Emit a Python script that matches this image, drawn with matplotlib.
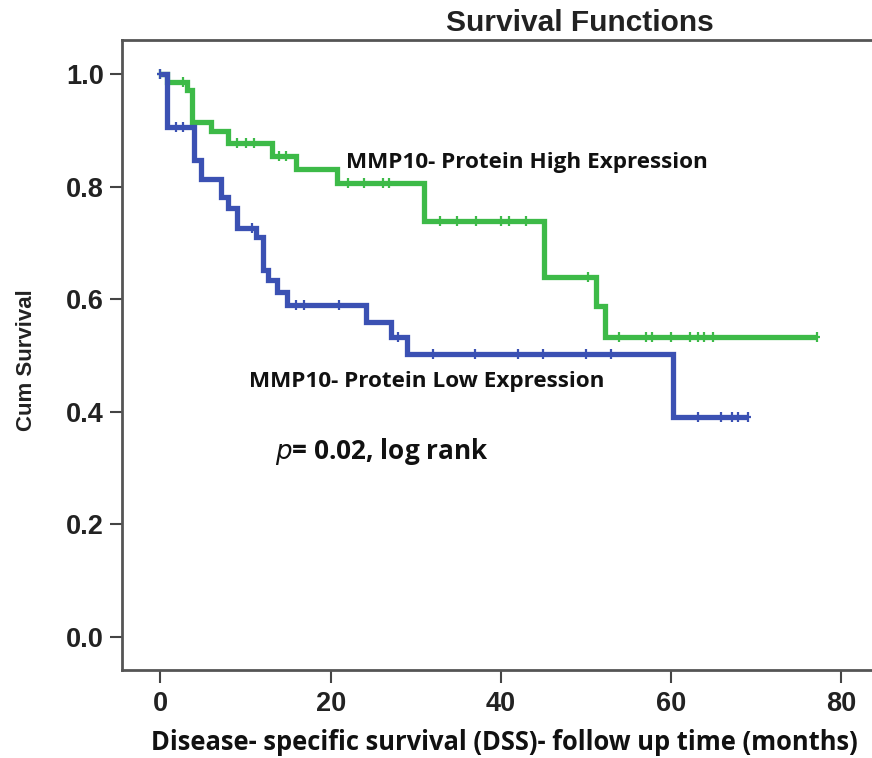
import numpy as np
import matplotlib
matplotlib.use("Agg")
import matplotlib.pyplot as plt

# ---- data ----
high_event_times = [0, 0.8, 3.1, 3.7, 5.9, 8.0, 13.1, 15.9, 20.8, 31.0, 45.1, 51.2, 52.2]
high_survival    = [1.0, 0.986, 0.972, 0.915, 0.898, 0.877, 0.854, 0.832, 0.806, 0.738, 0.640, 0.587, 0.533]
high_censored    = [0, 2.7, 9.0, 10.0, 11.0, 13.9, 14.7, 22.0, 23.9, 26.1, 26.9,
                    32.9, 34.9, 37.1, 40.0, 41.0, 42.9, 50.2,
                    53.9, 57.1, 57.8, 60.0, 62.2, 63.1, 63.9, 64.9, 77.1]
high_end = 77.1

low_event_times = [0, 0.8, 3.9, 4.8, 7.1, 8.0, 9.0, 11.2, 12.0, 12.7, 13.7, 14.9, 24.1, 27.1, 29.0, 60.2]
low_survival    = [1.0, 0.906, 0.847, 0.814, 0.781, 0.761, 0.726, 0.711, 0.652, 0.634, 0.613, 0.590,
                   0.560, 0.533, 0.503, 0.391]
low_censored    = [0, 1.8, 2.7, 10.8, 15.9, 16.9, 21.0, 27.9, 32.0, 37.0, 42.0, 44.9, 50.0, 52.9,
                   63.1, 65.9, 67.1, 67.8, 69.0]
low_end = 69.0

xticks = [0, 20, 40, 60, 80]
yticks = [0.0, 0.2, 0.4, 0.6, 0.8, 1.0]

green = "#3dba48"
blue = "#3b51b3"

fig = plt.figure(figsize=(8.72, 7.58), dpi=100)
ax = fig.add_axes([0.14, 0.116, 0.862, 0.831])


def step_curve(ax, times, surv, end, censored, color):
    t = list(times) + [end]
    s = list(surv) + [surv[-1]]
    ax.step(t, s, where="post", color=color, lw=3.8, solid_capstyle="butt",
            solid_joinstyle="miter", zorder=3)
    ta = np.asarray(times)
    cs = [surv[np.searchsorted(ta, c, side="right") - 1] for c in censored]
    ax.plot(censored, cs, linestyle="none", marker="|", markersize=7, mew=1.6,
            color=color, zorder=4)
    ax.plot(censored, cs, linestyle="none", marker="_", markersize=5, mew=1.6,
            color=color, zorder=4)


step_curve(ax, high_event_times, high_survival, high_end, high_censored, green)
step_curve(ax, low_event_times, low_survival, low_end, low_censored, blue)

ax.set_xlim(-4.5, 83.8)
ax.set_ylim(-0.059, 1.060)
ax.set_xticks(xticks)
ax.set_yticks(yticks)
ax.set_xticklabels([str(v) for v in xticks])
ax.set_yticklabels([f"{v:.1f}" for v in yticks])

for lab in ax.get_xticklabels() + ax.get_yticklabels():
    lab.set_fontfamily("Liberation Sans")
    lab.set_fontweight("bold")
    lab.set_fontsize(19.5)
    lab.set_color("#222222")

ax.tick_params(direction="out", length=9, width=1.5, color="#444444", pad=4)
ax.tick_params(axis="x", pad=6)
for side in ["left", "bottom", "top"]:
    ax.spines[side].set_color("#555555")
    ax.spines[side].set_linewidth(2.0)
ax.spines["right"].set_visible(False)

fig.text(0.665, 0.969, "Survival Functions", ha="center", va="center",
         fontfamily="Liberation Sans", fontweight="bold", fontsize=21.5, color="#222222")
fig.text(0.578, 0.021, "Disease- specific survival (DSS)- follow up time (months)",
         ha="center", va="center", fontfamily="Open Sans", fontweight="bold",
         fontsize=18.4, color="#111111")
fig.text(0.03, 0.525, "Cum Survival", rotation=90, ha="center", va="center",
         fontfamily=["Liberation Sans Narrow", "Liberation Sans"], fontweight="bold",
         fontsize=16, color="#222222")

ax.text(21.8, 0.842, "MMP10- Protein High Expression", ha="left", va="center",
        fontfamily="Open Sans", fontweight="bold", fontsize=16.2, color="#111111")
ax.text(10.4, 0.453, "MMP10- Protein Low Expression", ha="left", va="center",
        fontfamily="Open Sans", fontweight="bold", fontsize=16.2, color="#111111")
ax.text(13.5, 0.33, r"$\bf{\it{p}}$= 0.02, log rank", ha="left", va="center",
        fontfamily="Open Sans", fontweight="bold", fontsize=18.8, color="#111111")

fig.savefig("out.png", dpi=100)
